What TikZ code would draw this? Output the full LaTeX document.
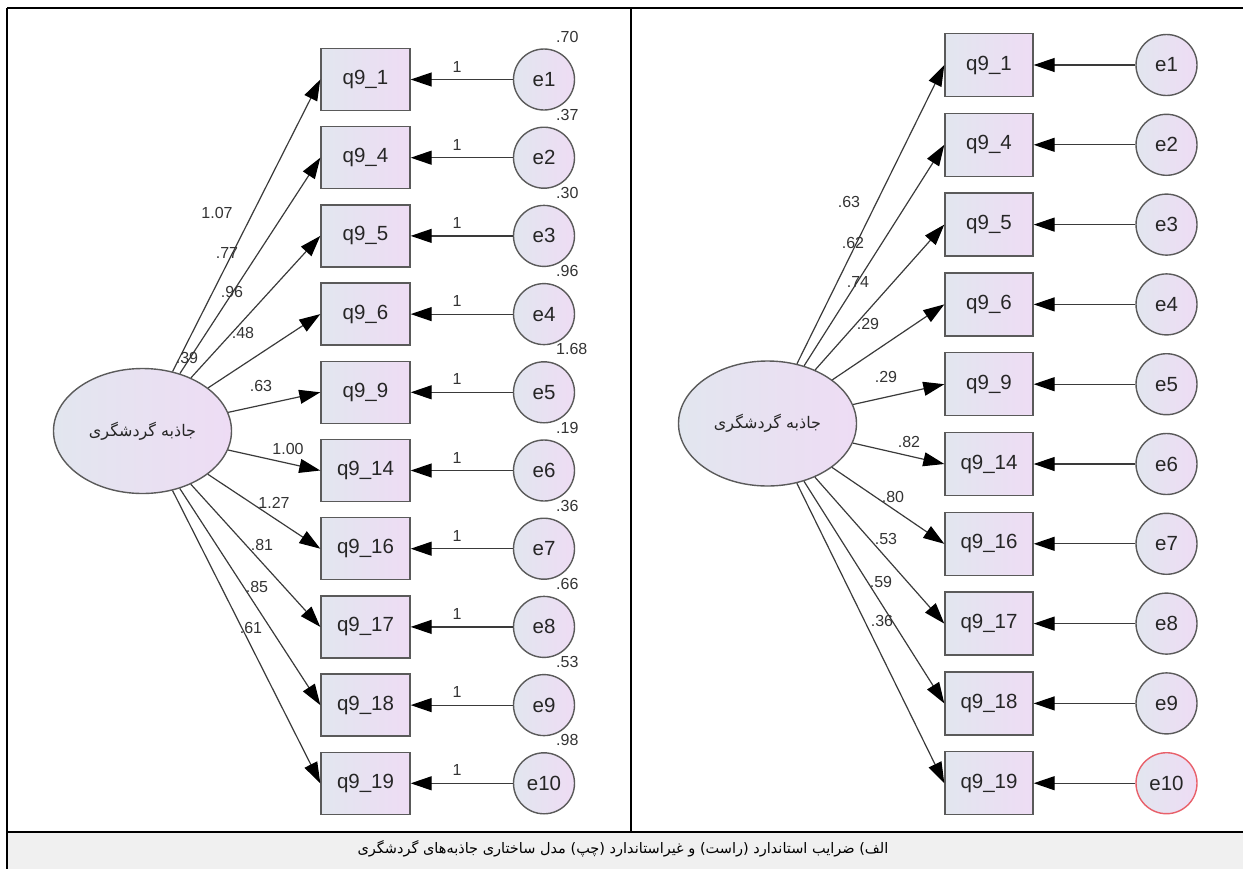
\documentclass[tikz,border=0pt]{standalone}
\usepackage{fontspec}
\setmainfont{Liberation Sans}
\newfontfamily\arabicfont[Script=Arabic]{DejaVu Sans}
\TeXXeTstate=1
\usetikzlibrary{arrows.meta,shapes.geometric}
\definecolor{fillL}{HTML}{E2E6EF}
\definecolor{fillR}{HTML}{EEDCF4}
\definecolor{edgec}{HTML}{5A5A5A}
\definecolor{arrc}{HTML}{3A3A3A}
\definecolor{capbg}{HTML}{F0F0F0}
\definecolor{errred}{HTML}{E8606A}
\tikzset{
  obsbox/.style={draw=edgec, line width=1.4pt, left color=fillL, right color=fillR,
    minimum width=89pt, minimum height=62pt, inner sep=0pt,
    font=\fontsize{20.5}{24}\selectfont, text=black!85},
  errc/.style={circle, draw=edgec, line width=1.4pt, left color=fillL, right color=fillR,
    minimum size=61pt, inner sep=0pt, font=\fontsize{20.5}{24}\selectfont, text=black!85},
  latent/.style={ellipse, draw=edgec, line width=1.4pt, left color=fillL, right color=fillR,
    minimum width=178pt, minimum height=125pt, inner sep=0pt, text=black!85},
  pth/.style={draw=arrc, line width=1.2pt, -{Triangle[length=21pt,width=14pt,color=black]}},
  lbl/.style={font=\fontsize{16}{18}\selectfont, text=black!80, inner sep=0pt},
  frame/.style={line width=2.5pt, draw=black}
}
\begin{document}
\begin{tikzpicture}[x=1pt,y=-1pt]
\useasboundingbox (0,0) rectangle (1243,868);
% caption background and frame
\fill[capbg] (7,832) rectangle (1250,875);
\draw[frame] (7,8) -- (1250,8);
\draw[frame] (7,8) -- (7,875);
\draw[frame] (631,8) -- (631,832);
\draw[frame] (7,832) -- (1250,832);
\node[inner sep=0pt] (cap) at (623,849) {\arabicfont\fontsize{14.5}{18}\selectfont\beginR الف) ضرایب استاندارد (راست) و غیراستاندارد (چپ) مدل ساختاری جاذبه‌های گردشگری\endR};

% ---------- left panel (unstandardized) ----------
\node[latent] (lL) at (142.5,431) {\arabicfont\fontsize{16}{18}\selectfont\beginR جاذبه گردشگری\endR};
\foreach \i/\q/\e/\v in {0/1/1/.70, 1/4/2/.37, 2/5/3/.30, 3/6/4/.96, 4/9/5/1.68, 5/14/6/.19, 6/16/7/.36, 7/17/8/.66, 8/18/9/.53, 9/19/10/.98}{
  \pgfmathsetmacro\yy{79.5+78.2*\i}
  \node[obsbox] (lq\i) at (365.5,\yy) {q9\_\q};
  \node[errc] (le\i) at (544,\yy) {e\e};
  \draw[pth] (le\i) -- (lq\i);
  \draw[pth] (lL) -- (lq\i.west);
  \node[lbl] (lone\i) at (457,\yy-13) {1};
  \node[lbl, anchor=west] (lvar\i) at (556,\yy-43) {\v};
}
\node[lbl] (la0) at (217,213) {1.07};
\node[lbl] (la1) at (227,253) {.77};
\node[lbl] (la2) at (232,292) {.96};
\node[lbl] (la3) at (243,333) {.48};
\node[lbl] (lLv) at (187,358) {.39};
\node[lbl] (la4) at (261,386) {.63};
\node[lbl] (la5) at (288,449) {1.00};
\node[lbl] (la6) at (274,503) {1.27};
\node[lbl] (la7) at (262,545) {.81};
\node[lbl] (la8) at (257,587) {.85};
\node[lbl] (la9) at (251,628) {.61};

% ---------- right panel (standardized) ----------
\node[latent] (rL) at (767.5,423.5) {\arabicfont\fontsize{16}{18}\selectfont\beginR جاذبه گردشگری\endR};
\foreach \i/\q/\e in {0/1/1, 1/4/2, 2/5/3, 3/6/4, 4/9/5, 5/14/6, 6/16/7, 7/17/8, 8/18/9, 9/19/10}{
  \pgfmathsetmacro\yy{65+79.8*\i}
  \node[obsbox, minimum width=88pt, minimum height=63pt] (rq\i) at (989,\yy) {q9\_\q};
  \ifnum\i=9
    \node[errc, draw=errred] (re\i) at (1166.5,\yy) {e\e};
  \else
    \node[errc] (re\i) at (1166.5,\yy) {e\e};
  \fi
  \draw[pth] (re\i) -- (rq\i);
  \draw[pth] (rL) -- (rq\i.west);
}
\node[lbl] (ra0) at (849,202) {.63};
\node[lbl] (ra1) at (853,243) {.62};
\node[lbl] (ra2) at (858,282) {.74};
\node[lbl] (ra3) at (868,324) {.29};
\node[lbl] (ra4) at (886,377) {.29};
\node[lbl] (ra5) at (909,442) {.82};
\node[lbl] (ra6) at (893,497) {.80};
\node[lbl] (ra7) at (886,539) {.53};
\node[lbl] (ra8) at (881,582) {.59};
\node[lbl] (ra9) at (882,621) {.36};
\end{tikzpicture}
\end{document}
